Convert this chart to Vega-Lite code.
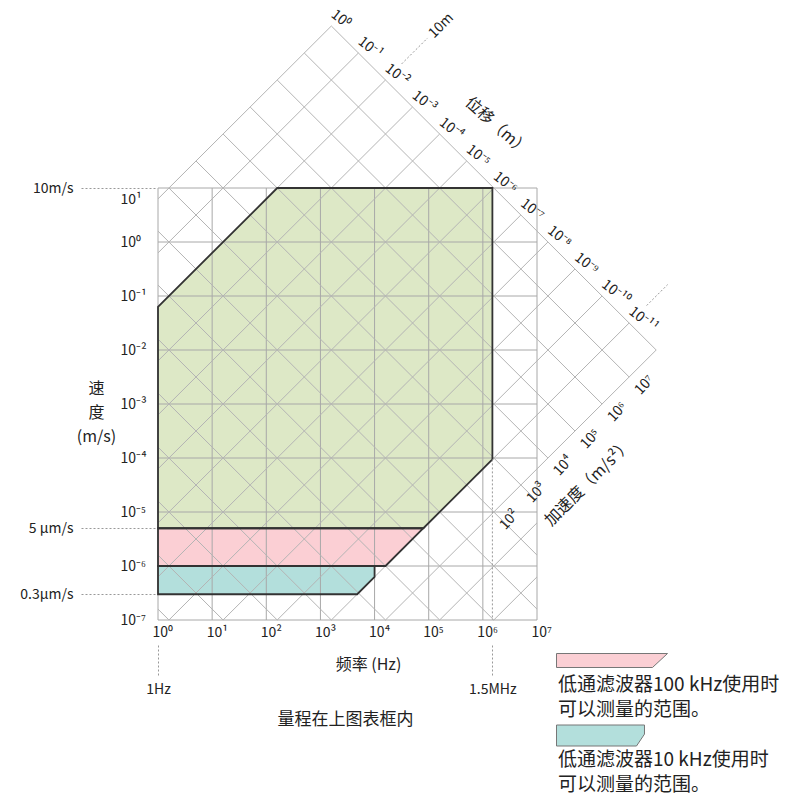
{
  "$schema": "https://vega.github.io/schema/vega-lite/v6.json",
  "width": 379,
  "height": 432,
  "autosize": {"type": "none"},
  "padding": {"left": 158, "top": 188, "right": 267, "bottom": 180},
  "background": "white",
  "config": {
    "font": "Noto Sans CJK SC",
    "view": {"stroke": null},
    "axis": {
      "labelFont": "Noto Sans CJK SC",
      "titleFont": "Noto Sans CJK SC",
      "labelColor": "#222",
      "titleColor": "#222",
      "titleFontWeight": "normal",
      "labelFlush": false,
      "labelOverlap": false,
      "grid": false,
      "domain": false
    },
    "text": {"font": "Noto Sans CJK SC", "color": "#222"}
  },
  "datasets": {
    "zones": [
      {"zone": "full", "f": 1, "hi": 0.0628319, "lo": 5e-6},
      {"zone": "full", "f": 159.155, "hi": 10, "lo": 5e-6},
      {"zone": "full", "f": 79577.5, "hi": 10, "lo": 5e-6},
      {"zone": "full", "f": 1500000, "hi": 10, "lo": 9.42478e-5},
      {"zone": "lp100", "f": 1, "hi": 5e-6, "lo": 1e-6},
      {"zone": "lp100", "f": 15915.5, "hi": 5e-6, "lo": 1e-6},
      {"zone": "lp100", "f": 79577.5, "hi": 5e-6, "lo": 5e-6},
      {"zone": "lp10", "f": 1, "hi": 1e-6, "lo": 3e-7},
      {"zone": "lp10", "f": 4774.65, "hi": 1e-6, "lo": 3e-7},
      {"zone": "lp10", "f": 10000, "hi": 1e-6, "lo": 6.28319e-7}
    ],
    "gridF": [
      {"f": 1}, {"f": 10}, {"f": 100}, {"f": 1000}, {"f": 10000}, {"f": 100000}, {"f": 1000000}, {"f": 10000000}
    ],
    "gridV": [
      {"v": 1e-7}, {"v": 1e-6}, {"v": 1e-5}, {"v": 1e-4}, {"v": 1e-3}, {"v": 0.01}, {"v": 0.1}, {"v": 1}, {"v": 10}
    ],
    "diag": [
      {"kind": "disp", "exp": 0, "f1": 1, "v1": 6.28319, "f2": 1591.55, "v2": 10000},
      {"kind": "disp", "exp": -1, "f1": 1, "v1": 0.628319, "f2": 5032.92, "v2": 3162.28},
      {"kind": "disp", "exp": -2, "f1": 1, "v1": 0.0628319, "f2": 15915.5, "v2": 1000},
      {"kind": "disp", "exp": -3, "f1": 1, "v1": 0.00628319, "f2": 50329.2, "v2": 316.228},
      {"kind": "disp", "exp": -4, "f1": 1, "v1": 6.28319e-4, "f2": 159155, "v2": 100},
      {"kind": "disp", "exp": -5, "f1": 1, "v1": 6.28319e-5, "f2": 503292, "v2": 31.6228},
      {"kind": "disp", "exp": -6, "f1": 1, "v1": 6.28319e-6, "f2": 1591550, "v2": 10},
      {"kind": "disp", "exp": -7, "f1": 1, "v1": 6.28319e-7, "f2": 5032920, "v2": 3.16228},
      {"kind": "disp", "exp": -8, "f1": 1.59155, "v1": 1e-7, "f2": 15915500, "v2": 1},
      {"kind": "disp", "exp": -9, "f1": 15.9155, "v1": 1e-7, "f2": 50329200, "v2": 0.316228},
      {"kind": "disp", "exp": -10, "f1": 159.155, "v1": 1e-7, "f2": 159155000, "v2": 0.1},
      {"kind": "disp", "exp": -11, "f1": 1591.55, "v1": 1e-7, "f2": 503292000, "v2": 0.0316228},
      {"kind": "disp", "exp": -12, "f1": 15915.5, "v1": 1e-7, "f2": 1591550000, "v2": 0.01},
      {"kind": "disp", "exp": -13, "f1": 159155, "v1": 1e-7, "f2": 10000000, "v2": 6.28319e-6},
      {"kind": "disp", "exp": -14, "f1": 1591550, "v1": 1e-7, "f2": 10000000, "v2": 6.28319e-7},
      {"kind": "acc", "exp": 8, "f1": 1591.55, "v1": 10000, "f2": 1591550000, "v2": 0.01},
      {"kind": "acc", "exp": 7, "f1": 503.292, "v1": 3162.28, "f2": 503292000, "v2": 0.00316228},
      {"kind": "acc", "exp": 6, "f1": 159.155, "v1": 1000, "f2": 159155000, "v2": 0.001},
      {"kind": "acc", "exp": 5, "f1": 50.3292, "v1": 316.228, "f2": 50329200, "v2": 3.16228e-4},
      {"kind": "acc", "exp": 4, "f1": 15.9155, "v1": 100, "f2": 15915500, "v2": 1e-4},
      {"kind": "acc", "exp": 3, "f1": 5.03292, "v1": 31.6228, "f2": 10000000, "v2": 1.59155e-5},
      {"kind": "acc", "exp": 2, "f1": 1.59155, "v1": 10, "f2": 10000000, "v2": 1.59155e-6},
      {"kind": "acc", "exp": 1, "f1": 1, "v1": 1.59155, "f2": 10000000, "v2": 1.59155e-7},
      {"kind": "acc", "exp": 0, "f1": 1, "v1": 0.159155, "f2": 1591550, "v2": 1e-7},
      {"kind": "acc", "exp": -1, "f1": 1, "v1": 0.0159155, "f2": 159155, "v2": 1e-7},
      {"kind": "acc", "exp": -2, "f1": 1, "v1": 0.00159155, "f2": 15915.5, "v2": 1e-7},
      {"kind": "acc", "exp": -3, "f1": 1, "v1": 1.59155e-4, "f2": 1591.55, "v2": 1e-7},
      {"kind": "acc", "exp": -4, "f1": 1, "v1": 1.59155e-5, "f2": 159.155, "v2": 1e-7},
      {"kind": "acc", "exp": -5, "f1": 1, "v1": 1.59155e-6, "f2": 15.9155, "v2": 1e-7},
      {"kind": "acc", "exp": -6, "f1": 1, "v1": 1.59155e-7, "f2": 1.59155, "v2": 1e-7}
    ],
    "extensions": [
      {"f1": 31623, "v1": 1986.9, "f2": 95500, "v2": 6000.4},
      {"f1": 1059300000, "v1": 0.066557, "f2": 2588200000, "v2": 0.162622}
    ],
    "dispLabels": [
      {"f": 1591.55, "v": 10000, "label": "10⁰"},
      {"f": 5032.92, "v": 3162.28, "label": "10⁻¹"},
      {"f": 15915.5, "v": 1000, "label": "10⁻²"},
      {"f": 50329.2, "v": 316.228, "label": "10⁻³"},
      {"f": 159155, "v": 100, "label": "10⁻⁴"},
      {"f": 503292, "v": 31.6228, "label": "10⁻⁵"},
      {"f": 1591550, "v": 10, "label": "10⁻⁶"},
      {"f": 5032920, "v": 3.16228, "label": "10⁻⁷"},
      {"f": 15915500, "v": 1, "label": "10⁻⁸"},
      {"f": 50329200, "v": 0.316228, "label": "10⁻⁹"},
      {"f": 159155000, "v": 0.1, "label": "10⁻¹⁰"},
      {"f": 503292000, "v": 0.0316228, "label": "10⁻¹¹"}
    ],
    "accLabels": [
      {"f": 1591550, "v": 1e-5, "label": "10²"},
      {"f": 5032920, "v": 3.16228e-5, "label": "10³"},
      {"f": 15915500, "v": 1e-4, "label": "10⁴"},
      {"f": 50329200, "v": 3.16228e-4, "label": "10⁵"},
      {"f": 159155000, "v": 0.001, "label": "10⁶"},
      {"f": 503292000, "v": 0.00316228, "label": "10⁷"}
    ]
  },
  "resolve": {"axis": {"x": "independent", "y": "independent"}},
  "layer": [
    {
      "data": {"name": "zones"},
      "mark": {"type": "area", "opacity": 1, "strokeWidth": 0},
      "encoding": {
        "x": {
          "field": "f", "type": "quantitative",
          "scale": {"type": "log", "domain": [1, 10000000], "nice": false},
          "axis": {
            "orient": "bottom",
            "values": [1, 10, 100, 1000, 10000, 100000, 1000000, 10000000],
            "labelExpr": "['10⁰','10¹','10²','10³','10⁴','10⁵','10⁶','10⁷'][round(log(datum.value)/LN10)]",
            "ticks": false, "tickSize": 0,
            "labelAlign": "left", "labelOffset": -6, "labelBaseline": "top", "labelPadding": 5,
            "labelFontSize": 14,
            "title": "频率 (Hz)", "titleFontSize": 16, "titleX": 210, "titleY": 36,
            "titleAlign": "center", "titleBaseline": "top"
          }
        },
        "y": {
          "field": "hi", "type": "quantitative", "stack": null,
          "scale": {"type": "log", "domain": [1e-7, 10], "nice": false},
          "axis": {
            "orient": "left",
            "values": [1e-7, 1e-6, 1e-5, 1e-4, 1e-3, 0.01, 0.1, 1, 10],
            "labelExpr": "['10⁻⁷','10⁻⁶','10⁻⁵','10⁻⁴','10⁻³','10⁻²','10⁻¹','10⁰','10¹'][round(log(datum.value)/LN10)+7]",
            "ticks": false, "tickSize": 0,
            "labelAlign": "left", "labelPadding": 38, "labelBaseline": "middle",
            "labelOffset": {"condition": {"test": "datum.value > 5", "value": 11}, "value": 0},
            "labelFontSize": 14,
            "title": ["速", "度", "(m/s)"], "titleAngle": 0, "titleAlign": "center", "titleBaseline": "top",
            "titleX": -62, "titleY": 192, "titleLineHeight": 24, "titleFontSize": 16
          }
        },
        "y2": {"field": "lo"},
        "color": {
          "field": "zone", "type": "nominal",
          "scale": {"domain": ["full", "lp100", "lp10"], "range": ["#dde8c6", "#fbcfd4", "#b3dfdc"]},
          "legend": {
            "orient": "none", "legendX": 396, "legendY": 463, "padding": 0, "offset": 0,
            "values": ["lp100", "lp10"], "title": null, "direction": "vertical",
            "symbolType": "M-1,-1L14.86,-1L12.71,1L-1,1Z",
            "symbolSize": 196, "symbolStrokeColor": "#777", "symbolStrokeWidth": 1, "symbolOpacity": 1,
            "labelFont": "Noto Sans CJK SC", "labelFontSize": 19, "labelColor": "#222", "labelLimit": 400,
            "labelAlign": "left", "labelBaseline": "top", "labelOffset": -15,
            "labelExpr": "datum.value == 'lp100' ? ['低通滤波器100 kHz使用时', '可以测量的范围。'] : ['低通滤波器10 kHz使用时', '可以测量的范围。']",
            "rowPadding": 3,
            "encode": {
              "symbols": {"update": {"shape": {"signal": "datum.value == 'lp10' ? 'M-1,-1.5L11.57,-1.5L11.57,-0.2L10.43,1.5L-1,1.5Z' : 'M-1,-1L14.86,-1L12.71,1L-1,1Z'"}}},
              "labels": {"update": {"dy": {"value": 15}, "lineHeight": {"value": 25}}}
            }
          }
        }
      }
    },
    {
      "data": {"name": "gridF"},
      "mark": {"type": "rule", "color": "#a8a8a8", "strokeWidth": 1},
      "encoding": {
        "x": {"field": "f", "type": "quantitative", "scale": {"type": "log", "domain": [1, 10000000], "nice": false}, "axis": null}
      }
    },
    {
      "data": {"name": "gridV"},
      "mark": {"type": "rule", "color": "#a8a8a8", "strokeWidth": 1},
      "encoding": {
        "y": {"field": "v", "type": "quantitative", "scale": {"type": "log", "domain": [1e-7, 10], "nice": false}, "axis": null}
      }
    },
    {
      "data": {"name": "diag"},
      "mark": {"type": "rule", "color": "#b4b4b4", "strokeWidth": 1},
      "encoding": {
        "x": {"field": "f1", "type": "quantitative", "scale": {"type": "log", "domain": [1, 10000000], "nice": false}, "axis": null},
        "y": {"field": "v1", "type": "quantitative", "scale": {"type": "log", "domain": [1e-7, 10], "nice": false}, "axis": null},
        "x2": {"field": "f2"},
        "y2": {"field": "v2"}
      }
    },
    {
      "data": {"name": "extensions"},
      "mark": {"type": "rule", "color": "#999", "strokeWidth": 1, "strokeDash": [2, 2]},
      "encoding": {
        "x": {"field": "f1", "type": "quantitative", "scale": {"type": "log", "domain": [1, 10000000], "nice": false}, "axis": null},
        "y": {"field": "v1", "type": "quantitative", "scale": {"type": "log", "domain": [1e-7, 10], "nice": false}, "axis": null},
        "x2": {"field": "f2"},
        "y2": {"field": "v2"}
      }
    },
    {
      "data": {"name": "zones"},
      "mark": {"type": "area", "fillOpacity": 0, "stroke": "#333", "strokeWidth": 1.8, "strokeJoin": "miter"},
      "encoding": {
        "x": {"field": "f", "type": "quantitative", "scale": {"type": "log", "domain": [1, 10000000], "nice": false}, "axis": null},
        "y": {"field": "hi", "type": "quantitative", "stack": null, "scale": {"type": "log", "domain": [1e-7, 10], "nice": false}, "axis": null},
        "y2": {"field": "lo"},
        "detail": {"field": "zone"}
      }
    },
    {
      "data": {"name": "dispLabels"},
      "mark": {"type": "text", "angle": 38, "align": "left", "baseline": "middle", "dx": -7, "dy": -11, "fontSize": 14},
      "encoding": {
        "x": {"field": "f", "type": "quantitative", "scale": {"type": "log", "domain": [1, 10000000], "nice": false}, "axis": null},
        "y": {"field": "v", "type": "quantitative", "scale": {"type": "log", "domain": [1e-7, 10], "nice": false}, "axis": null},
        "text": {"field": "label"}
      }
    },
    {
      "data": {"name": "accLabels"},
      "mark": {"type": "text", "angle": -48, "align": "left", "baseline": "middle", "dx": -6, "dy": 17, "fontSize": 14},
      "encoding": {
        "x": {"field": "f", "type": "quantitative", "scale": {"type": "log", "domain": [1, 10000000], "nice": false}, "axis": null},
        "y": {"field": "v", "type": "quantitative", "scale": {"type": "log", "domain": [1e-7, 10], "nice": false}, "axis": null},
        "text": {"field": "label"}
      }
    },
    {
      "data": {"values": [{"f": 159155, "v": 100, "label": "位移（m）"}]},
      "mark": {"type": "text", "angle": 42, "align": "left", "baseline": "middle", "dx": -2, "dy": -44, "fontSize": 16},
      "encoding": {
        "x": {"field": "f", "type": "quantitative", "scale": {"type": "log", "domain": [1, 10000000], "nice": false}, "axis": null},
        "y": {"field": "v", "type": "quantitative", "scale": {"type": "log", "domain": [1e-7, 10], "nice": false}, "axis": null},
        "text": {"field": "label"}
      }
    },
    {
      "data": {"values": [{"f": 5032920, "v": 3.16228e-5, "label": "加速度（m/s²）"}]},
      "mark": {"type": "text", "angle": -45, "align": "left", "baseline": "middle", "dx": -8, "dy": 46, "fontSize": 16},
      "encoding": {
        "x": {"field": "f", "type": "quantitative", "scale": {"type": "log", "domain": [1, 10000000], "nice": false}, "axis": null},
        "y": {"field": "v", "type": "quantitative", "scale": {"type": "log", "domain": [1e-7, 10], "nice": false}, "axis": null},
        "text": {"field": "label"}
      }
    },
    {
      "data": {"values": [{"f": 95500, "v": 6000.4, "label": "10m"}]},
      "mark": {"type": "text", "angle": -45, "align": "left", "baseline": "middle", "dx": 4, "dy": 1, "fontSize": 14},
      "encoding": {
        "x": {"field": "f", "type": "quantitative", "scale": {"type": "log", "domain": [1, 10000000], "nice": false}, "axis": null},
        "y": {"field": "v", "type": "quantitative", "scale": {"type": "log", "domain": [1e-7, 10], "nice": false}, "axis": null},
        "text": {"field": "label"}
      }
    },
    {
      "data": {"values": [{"f": 1500000, "vTop": 9.42478e-5, "vBot": 1e-7}]},
      "mark": {"type": "rule", "color": "#999", "strokeWidth": 1, "strokeDash": [2, 2]},
      "encoding": {
        "x": {
          "field": "f", "type": "quantitative",
          "scale": {"type": "log", "domain": [1, 10000000], "nice": false},
          "axis": {
            "orient": "bottom", "values": [1, 1500000],
            "labelExpr": "datum.value < 10 ? '1Hz' : '1.5MHz'",
            "offset": 25, "ticks": true, "tickSize": 32, "tickDash": [2, 2], "tickColor": "#999",
            "labelPadding": 5, "labelBaseline": "top", "labelAlign": "center", "labelFontSize": 14,
            "title": "量程在上图表框内", "titleFontSize": 17, "titleX": 187, "titleY": 66,
            "titleAlign": "center", "titleBaseline": "top"
          }
        },
        "y": {
          "field": "vTop", "type": "quantitative",
          "scale": {"type": "log", "domain": [1e-7, 10], "nice": false},
          "axis": {
            "orient": "left", "values": [10, 5e-6, 3e-7],
            "labelExpr": "datum.value > 1 ? '10m/s' : datum.value > 1e-6 ? '5 μm/s' : '0.3μm/s'",
            "offset": 3, "ticks": true, "tickSize": 75, "tickDash": [2, 2], "tickColor": "#999",
            "labelPadding": 7, "labelAlign": "right", "labelBaseline": "middle", "labelFontSize": 14,
            "title": null
          }
        },
        "y2": {"field": "vBot"}
      }
    }
  ]
}
